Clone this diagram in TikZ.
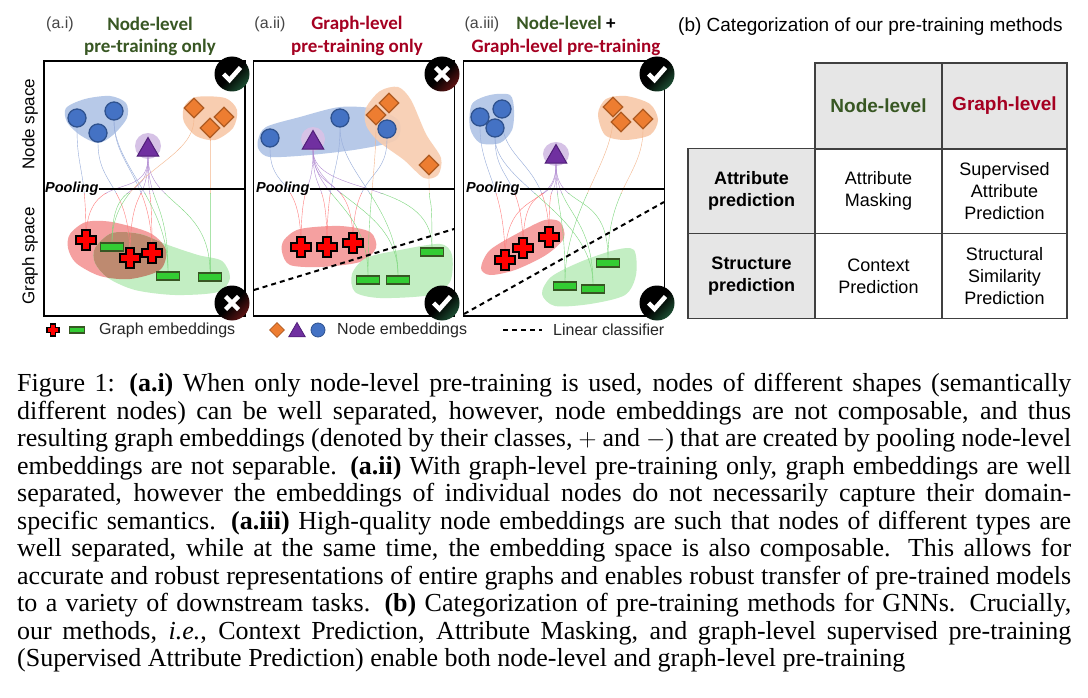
\documentclass[tikz,border=0pt]{standalone}
\usepackage{fontspec}
\setmainfont{Liberation Serif}
\setsansfont{Liberation Sans}
\newfontfamily\hdfont{Carlito}
\usetikzlibrary{shapes.geometric}
\pgfdeclarelayer{bgwhite}
\pgfdeclarelayer{blobs}
\pgfdeclarelayer{links}
\pgfsetlayers{bgwhite,blobs,links,main}
\definecolor{hgreen}{RGB}{56,87,35}
\definecolor{hred}{RGB}{165,0,33}
\definecolor{nblue}{RGB}{68,114,196}
\definecolor{nblueD}{RGB}{47,82,143}
\definecolor{bblue}{RGB}{183,201,232}
\definecolor{norange}{RGB}{237,125,49}
\definecolor{norangeD}{RGB}{174,90,33}
\definecolor{borange}{RGB}{248,205,176}
\definecolor{npurple}{RGB}{112,48,160}
\definecolor{npurpleD}{RGB}{80,30,120}
\definecolor{bpurple}{RGB}{214,194,230}
\definecolor{bred}{RGB}{245,160,160}
\definecolor{bgreen}{RGB}{195,238,195}
\definecolor{bbrown}{RGB}{190,138,112}
\definecolor{egreen}{RGB}{51,204,51}
\definecolor{egreenD}{RGB}{55,86,35}
\definecolor{tgray}{RGB}{230,230,230}
\definecolor{tagray}{RGB}{70,70,70}
\definecolor{okgreen}{RGB}{28,78,50}
\definecolor{nored}{RGB}{95,20,20}
\definecolor{lblue}{RGB}{150,172,218}
\definecolor{lpurple}{RGB}{178,140,210}
\definecolor{lorange}{RGB}{244,182,140}
\definecolor{lred}{RGB}{255,125,125}
\definecolor{lgreen}{RGB}{125,215,125}
\newcommand\conn[4]{%
  \begin{scope}\clip (0,0) rectangle (1088,194);
  \draw[link,#3] (#1) .. controls +(0,55) and +(0,-75) .. (#2);\end{scope}
  \begin{scope}\clip (0,194) rectangle (1088,360);
  \draw[link,#4] (#1) .. controls +(0,55) and +(0,-75) .. (#2);\end{scope}}
\newcommand\okat[2]{%
  \node[okicon] (#1) at (#2) {};
  \draw[markline] ([shift={(-8.5,0)}]#1.center) -- ([shift={(-2.5,6)}]#1.center) -- ([shift={(8.5,-6.5)}]#1.center);}
\newcommand\noat[2]{%
  \node[noicon] (#1) at (#2) {};
  \draw[markline] ([shift={(-6.5,-6.5)}]#1.center) -- ([shift={(6.5,6.5)}]#1.center)
    ([shift={(-6.5,6.5)}]#1.center) -- ([shift={(6.5,-6.5)}]#1.center);}
\begin{document}
\begin{tikzpicture}[x=1pt,y=-1pt,
  panel/.style={rectangle, draw=black, line width=1.2, minimum width=201, minimum height=255, inner sep=0},
  hdr/.style={font=\hdfont\bfseries\fontsize{19}{22}\selectfont, inner sep=0},
  tag/.style={font=\sffamily\fontsize{16}{18}\selectfont, text=tagray, inner sep=0},
  axislab/.style={font=\sffamily\fontsize{17}{20}\selectfont, rotate=90, inner sep=0},
  pool/.style={font=\sffamily\bfseries\itshape\fontsize{14.5}{16}\selectfont, inner sep=0, anchor=west},
  poolline/.style={line width=2, black},
  bnode/.style={circle, fill=nblue, draw=nblueD, line width=1.3, minimum size=18, inner sep=0},
  onode/.style={diamond, aspect=1, fill=norange, draw=norangeD, line width=1.3, minimum size=20, inner sep=0},
  tnode/.style={regular polygon, regular polygon sides=3, fill=npurple, draw=npurpleD, line width=1, minimum size=25, inner sep=0},
  grect/.style={rectangle, fill=egreen, draw=egreenD, line width=1.6, minimum width=23, minimum height=7.5, inner sep=0},
  link/.style={line width=0.4},
  classifier/.style={black, line width=2, dash pattern=on 5pt off 4pt},
  okicon/.style={circle, minimum size=35, inner sep=0, top color=black, bottom color=okgreen, middle color=black, shading angle=45},
  noicon/.style={circle, minimum size=35, inner sep=0, top color=black, bottom color=nored, middle color=black, shading angle=45},
  markline/.style={white, line width=4.5},
  legtext/.style={font=\sffamily\fontsize{16}{18}\selectfont, text=black!85, anchor=west, inner sep=0},
  cell/.style={rectangle, draw=black!75, line width=1.3, align=center, font=\sffamily\fontsize{18}{22}\selectfont, inner sep=0},
  plus/.pic={\filldraw[fill=red, draw=black, line width=1.8] (-4,-10) -- (4,-10) -- (4,-4) -- (10,-4) -- (10,4) -- (4,4) -- (4,10) -- (-4,10) -- (-4,4) -- (-10,4) -- (-10,-4) -- (-4,-4) -- cycle;}
]
\useasboundingbox (0,0) rectangle (1088,698);
\begin{pgfonlayer}{bgwhite}
\fill[white] (0,0) rectangle (1088,698);
\end{pgfonlayer}

% ================= Panel a.i =================
\node[tag] (Atag) at (60,24) {(a.i)};
\node[hdr, text=hgreen] (Ah1) at (150,24) {Node-level};
\node[hdr, text=hgreen] (Ah2) at (150,47) {pre-training only};
\node[panel] (Abox) at (144.5,188.5) {};
\node[axislab] (Ans) at (30,124) {Node space};
\node[axislab] (Ags) at (30,256) {Graph space};
\node[pool] (Apool) at (45,189) {Pooling};
\draw[poolline] (Apool.east) -- (Apool.east -| Abox.east);
\begin{pgfonlayer}{blobs}
\fill[bblue] plot[smooth cycle] coordinates {(66,108) (85,99) (110,96) (126,103) (127,118) (113,135) (98,143) (80,135) (67,122)};
\fill[bpurple] (148,146) ellipse [x radius=13, y radius=13];
\fill[borange] plot[smooth cycle] coordinates {(184,107) (196,97) (225,98) (237,110) (233,128) (215,140) (196,136) (184,122)};
\fill[bred] plot[smooth cycle] coordinates {(70,234) (86,222) (112,222) (150,233) (166,250) (160,270) (130,279) (100,276) (76,263) (68,248)};
\fill[bgreen] plot[smooth cycle] coordinates {(95,248) (112,233) (140,234) (168,245) (198,255) (222,261) (230,278) (218,292) (175,295) (135,290) (108,278) (95,263)};
\begin{scope}
\clip plot[smooth cycle] coordinates {(95,248) (112,233) (140,234) (168,245) (198,255) (222,261) (230,278) (218,292) (175,295) (135,290) (108,278) (95,263)};
\fill[bbrown] plot[smooth cycle] coordinates {(70,234) (86,222) (112,222) (150,233) (166,250) (160,270) (130,279) (100,276) (76,263) (68,248)};
\end{scope}
\end{pgfonlayer}
\node[bnode] (Ab1) at (77,118) {};
\node[bnode] (Ab2) at (98,133) {};
\node[bnode] (Ab3) at (114,111) {};
\node[tnode] (At) at (148,150) {};
\node[onode] (Ao1) at (194,108) {};
\node[onode] (Ao2) at (224,117) {};
\node[onode] (Ao3) at (210,128) {};
\coordinate (Ar1) at (86,240);
\coordinate (Ar2) at (130,258);
\coordinate (Ar3) at (152,253);
\node[grect] (Ag1) at (112,247) {};
\node[grect] (Ag2) at (168,276) {};
\node[grect] (Ag3) at (210,277) {};
\pic at (Ar1) {plus};
\pic at (Ar2) {plus};
\pic at (Ar3) {plus};
\begin{pgfonlayer}{links}
\conn{Ab1}{Ar1}{lblue}{lred}
\conn{At}{Ar1}{lpurple}{lred}
\conn{Ab2}{Ar2}{lblue}{lred}
\conn{At}{Ar2}{lpurple}{lred}
\conn{Ab3}{Ar3}{lblue}{lred}
\conn{At}{Ar3}{lpurple}{lred}
\conn{At}{Ag1}{lpurple}{lgreen}
\conn{Ao1}{Ag1}{lorange}{lgreen}
\conn{Ab3}{Ag2}{lblue}{lgreen}
\conn{At}{Ag2}{lpurple}{lgreen}
\conn{Ao3}{Ag3}{lorange}{lgreen}
\conn{At}{Ag3}{lpurple}{lgreen}
\end{pgfonlayer}
\okat{Aok}{232,74}
\noat{Ano}{232,303}

% ================= Panel a.ii =================
\node[tag] (Btag) at (270,24) {(a.ii)};
\node[hdr, text=hred] (Bh1) at (357,24) {Graph-level};
\node[hdr, text=hred] (Bh2) at (357,47) {pre-training only};
\node[panel] (Bbox) at (354,188.5) {};
\node[pool] (Bpool) at (256,189) {Pooling};
\draw[poolline] (Bpool.east) -- (Bpool.east -| Bbox.east);
\begin{pgfonlayer}{blobs}
\fill[bblue] plot[smooth cycle] coordinates {(258,140) (266,127) (300,117) (340,107) (376,109) (399,121) (396,140) (360,149) (310,155) (270,157) (259,150)};
\fill[borange, opacity=0.9] plot[smooth cycle] coordinates {(366,108) (380,91) (398,87) (411,100) (426,134) (441,158) (438,175) (424,178) (404,160) (378,141) (366,125)};
\fill[bpurple] (313,139) ellipse [x radius=12, y radius=12];
\fill[bred] plot[smooth cycle] coordinates {(284,240) (300,229) (340,226) (370,232) (376,248) (360,262) (320,267) (290,265) (282,252)};
\fill[bgreen] plot[smooth cycle] coordinates {(352,274) (366,258) (400,250) (440,244) (452,255) (450,282) (430,295) (380,298) (355,292)};
\end{pgfonlayer}
\node[bnode] (Bb1) at (270,138) {};
\node[bnode] (Bb2) at (340,118) {};
\node[bnode] (Bb3) at (387,129) {};
\node[tnode] (Bt) at (313,143) {};
\node[onode] (Bo1) at (376,115) {};
\node[onode] (Bo2) at (389,103) {};
\node[onode] (Bo3) at (429,165) {};
\coordinate (Br1) at (301,247);
\coordinate (Br2) at (327,247);
\coordinate (Br3) at (353,243);
\node[grect] (Bg1) at (368,280) {};
\node[grect] (Bg2) at (398,280) {};
\node[grect] (Bg3) at (432,252) {};
\pic at (Br1) {plus};
\pic at (Br2) {plus};
\pic at (Br3) {plus};
\begin{pgfonlayer}{links}
\conn{Bb1}{Br1}{lblue}{lred}
\conn{Bt}{Br1}{lpurple}{lred}
\conn{Bt}{Br2}{lpurple}{lred}
\conn{Bb2}{Br2}{lblue}{lred}
\conn{Bt}{Br3}{lpurple}{lred}
\conn{Bb3}{Br3}{lblue}{lred}
\conn{Bt}{Bg1}{lpurple}{lgreen}
\conn{Bo1}{Bg1}{lorange}{lgreen}
\conn{Bt}{Bg2}{lpurple}{lgreen}
\conn{Bb2}{Bg2}{lblue}{lgreen}
\conn{Bt}{Bg3}{lpurple}{lgreen}
\conn{Bo3}{Bg3}{lorange}{lgreen}
\end{pgfonlayer}
\coordinate (Bd1) at (254,290);
\coordinate (Bd2) at (454,229);
\draw[classifier] (Bd1) -- (Bd2);
\noat{Bno}{442,74}
\okat{Bok}{442,303}

% ================= Panel a.iii =================
\node[tag] (Ctag) at (482,24) {(a.iii)};
\node[hdr] (Ch1) at (566,23) {\textcolor{hgreen}{Node-level} +};
\node[hdr, text=hred] (Ch2) at (566,47) {Graph-level pre-training};
\node[panel] (Cbox) at (564,188.5) {};
\node[pool] (Cpool) at (466,189) {Pooling};
\draw[poolline] (Cpool.east) -- (Cpool.east -| Cbox.east);
\begin{pgfonlayer}{blobs}
\fill[bblue] plot[smooth cycle] coordinates {(472,104) (490,95) (510,95) (514,110) (512,130) (500,143) (480,143) (470,128)};
\fill[bpurple] (556,154) ellipse [x radius=13, y radius=12];
\fill[borange] plot[smooth cycle] coordinates {(598,114) (606,99) (626,96) (650,104) (658,120) (650,135) (625,140) (605,135)};
\fill[bred] plot[smooth cycle] coordinates {(481,268) (490,250) (520,232) (545,220) (560,222) (564,238) (546,255) (515,270) (490,275)};
\fill[bgreen] plot[smooth cycle] coordinates {(542,294) (551,277) (580,262) (615,250) (634,250) (636,275) (625,295) (590,304) (555,306)};
\end{pgfonlayer}
\node[bnode] (Cb1) at (480,117) {};
\node[bnode] (Cb2) at (502,109) {};
\node[bnode] (Cb3) at (495,128) {};
\node[tnode] (Ct) at (556,157) {};
\node[onode] (Co1) at (613,107) {};
\node[onode] (Co2) at (621,122) {};
\node[onode] (Co3) at (643,119) {};
\coordinate (Cr1) at (505,260);
\coordinate (Cr2) at (523,248);
\coordinate (Cr3) at (549,237);
\node[grect] (Cg1) at (565,286) {};
\node[grect] (Cg2) at (593,289) {};
\node[grect] (Cg3) at (608,263) {};
\pic at (Cr1) {plus};
\pic at (Cr2) {plus};
\pic at (Cr3) {plus};
\begin{pgfonlayer}{links}
\conn{Cb1}{Cr1}{lblue}{lred}
\conn{Ct}{Cr1}{lpurple}{lred}
\conn{Cb3}{Cr2}{lblue}{lred}
\conn{Ct}{Cr2}{lpurple}{lred}
\conn{Cb2}{Cr3}{lblue}{lred}
\conn{Ct}{Cr3}{lpurple}{lred}
\conn{Ct}{Cg1}{lpurple}{lgreen}
\conn{Co1}{Cg1}{lorange}{lgreen}
\conn{Ct}{Cg2}{lpurple}{lgreen}
\conn{Cb3}{Cg2}{lblue}{lgreen}
\conn{Co3}{Cg3}{lorange}{lgreen}
\conn{Ct}{Cg3}{lpurple}{lgreen}
\end{pgfonlayer}
\coordinate (Cd1) at (464,314);
\coordinate (Cd2) at (664,202);
\draw[classifier] (Cd1) -- (Cd2);
\okat{Cok}{657,74}
\okat{Cok2}{657,303}

% ================= Legend =================
\coordinate (Lr) at (53,330);
\pic[scale=0.62] at (Lr) {plus};
\node[grect, minimum width=15, minimum height=6.5] (Lg) at (77,330) {};
\node[legtext] (Lt1) at (99,330) {Graph embeddings};
\node[onode, minimum size=15, line width=0.8] (Lo) at (277,330) {};
\node[tnode, minimum size=19, line width=0.8] (Lp) at (297,332) {};
\node[bnode, minimum size=14, line width=0.8] (Lb) at (318,330) {};
\node[legtext] (Lt2) at (337,330) {Node embeddings};
\coordinate (Ld1) at (503,330);
\coordinate (Ld2) at (542,330);
\draw[classifier] (Ld1) -- (Ld2);
\node[legtext] (Lt3) at (553,330) {Linear classifier};

% ================= Table (b) =================
\node[anchor=west, font=\sffamily\fontsize{19}{22}\selectfont, inner sep=0] (btitle) at (678,27) {(b) Categorization of our pre-training methods};
\node[cell, fill=tgray, minimum width=127, minimum height=86, font=\sffamily\bfseries\fontsize{19}{22}\selectfont, text=hgreen] (hN) at (878.5,106) {Node-level};
\node[cell, fill=tgray, minimum width=125, minimum height=86, font=\sffamily\bfseries\fontsize{19}{22}\selectfont, text=hred] (hG) at (1004.5,106) {Graph-level};
\node[cell, fill=tgray, minimum width=127, minimum height=85, font=\sffamily\bfseries\fontsize{18}{22}\selectfont] (rA) at (751.5,191) {Attribute\\prediction};
\node[cell, minimum width=127, minimum height=85] (cAM) at (878.5,191) {Attribute\\Masking};
\node[cell, minimum width=125, minimum height=85] (cSAP) at (1004.5,191) {Supervised\\Attribute\\Prediction};
\node[cell, fill=tgray, minimum width=127, minimum height=85, font=\sffamily\bfseries\fontsize{18}{22}\selectfont] (rS) at (751.5,276) {Structure\\prediction};
\node[cell, minimum width=127, minimum height=85] (cCP) at (878.5,276) {Context\\Prediction};
\node[cell, minimum width=125, minimum height=85] (cSSP) at (1004.5,276) {Structural\\Similarity\\Prediction};

% ================= Caption =================
\node[anchor=north west, inner sep=0, text width=1054pt, align=justify,
      font=\rmfamily\fontsize{26}{27.5}\selectfont] (cap) at (17,373) {%
\hyphenpenalty=10000\tolerance=9999\emergencystretch=20pt
Figure 1: \textbf{(a.i)} When only node-level pre-training is used, nodes of different shapes (semantically\linebreak
different nodes) can be well separated, however, node embeddings are not composable, and thus\linebreak
resulting graph embeddings (denoted by their classes, $+$ and $-$) that are created by pooling node-level\linebreak
embeddings are not separable. \textbf{(a.ii)} With graph-level pre-training only, graph embeddings are well\linebreak
separated, however the embeddings of individual nodes do not necessarily capture their domain-\linebreak
specific semantics. \textbf{(a.iii)} High-quality node embeddings are such that nodes of different types are\linebreak
well separated, while at the same time, the embedding space is also composable. This allows for\linebreak
accurate and robust representations of entire graphs and enables robust transfer of pre-trained models\linebreak
to a variety of downstream tasks. \textbf{(b)} Categorization of pre-training methods for GNNs. Crucially,\linebreak
our methods, \textit{i.e.}, Context Prediction, Attribute Masking, and graph-level supervised pre-training\linebreak
(Supervised Attribute Prediction) enable both node-level and graph-level pre-training};
\end{tikzpicture}
\end{document}
